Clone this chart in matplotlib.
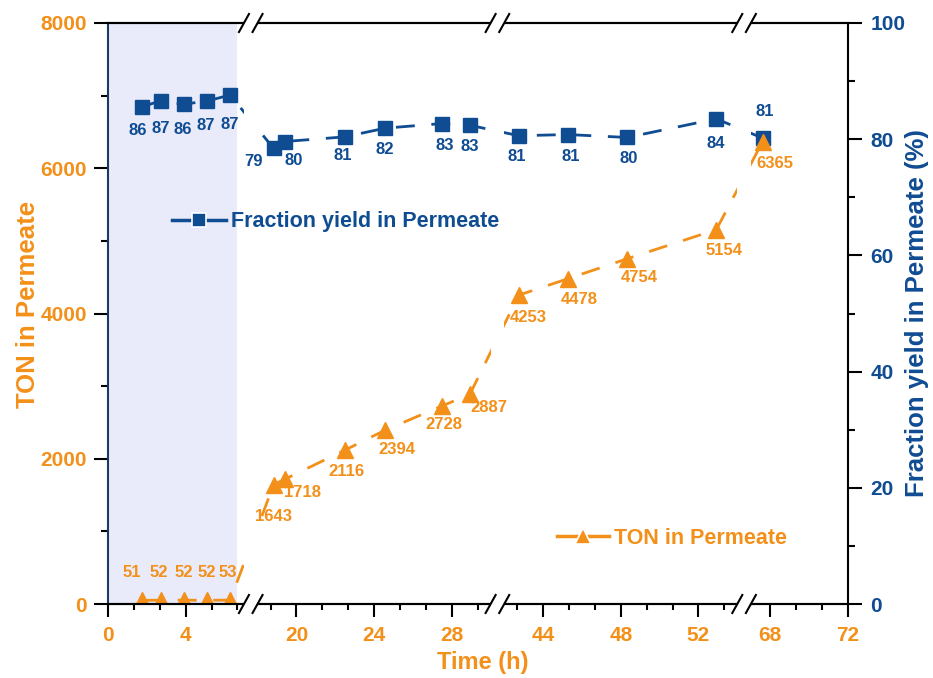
import numpy as np
import matplotlib
matplotlib.use("Agg")
import matplotlib.pyplot as plt
from matplotlib.lines import Line2D

plt.rcParams["font.family"] = ["Liberation Sans", "DejaVu Sans"]
plt.rcParams["font.weight"] = "bold"
plt.rcParams["axes.labelweight"] = "bold"

ORANGE = "#F39019"
BLUE = "#0F4C92"
NAVY = "#1B3A63"
SHADE = "#E9EBFA"

# ---- data ----
time_h = [1.76, 2.72, 3.89, 5.12, 6.29,
          18.83, 19.4, 22.48, 24.57, 27.51, 28.93,
          42.75, 45.27, 48.33, 52.92, 67.6]
ton = [51, 52, 52, 52, 53,
       1643, 1718, 2116, 2394, 2728, 2887,
       4253, 4478, 4754, 5154, 6365]
yield_pct = [85.6, 86.6, 86.0, 86.6, 87.6,
             78.4, 79.6, 80.4, 81.9, 82.7, 82.4,
             80.6, 80.8, 80.3, 83.5, 80.2]
yield_labels = ["86", "87", "86", "87", "87",
                "79", "80", "81", "82", "83", "83",
                "81", "81", "80", "84", "81"]

x_major = [0, 4, 20, 24, 28, 44, 48, 52, 68, 72]
x_tick_labels = ["0", "4", "20", "24", "28", "44", "48", "52", "68", "72"]

# broken time axis: shown pieces and gap width (in hours-equivalent)
segments = [(0, 7), (18, 30), (42, 54), (67, 72)]
GAP = 0.7

t_knots, u_knots = [], []
u = 0.0
for i, (a, b) in enumerate(segments):
    if i > 0:
        u += GAP
    t_knots += [a, b]
    u_knots += [u, u + b - a]
    u += b - a
t_knots = np.array(t_knots, float)
u_knots = np.array(u_knots, float)


def fwd(x):
    return np.interp(x, t_knots, u_knots)


def inv(x):
    return np.interp(x, u_knots, t_knots)


def frac(t):
    return float(fwd(t) / fwd(72))


# label offsets in pixels (dx, dy) from marker centre
ton_off = [(-10, 28), (-2, 28), (0, 28), (-1, 28), (-2, 28),
           (0, -32), (18, -13), (2, -21), (12, -19), (2, -19), (19, -13),
           (9, -22), (12, -21), (12, -19), (8, -21), (12, -22)]
yld_off = [(-4, -24), (0, -28), (-1, -25), (-2, -25), (0, -29),
           (-20, -13), (9, -19), (-2, -19), (0, -21), (2, -22), (0, -21),
           (-2, -21), (3, -22), (2, -21), (-1, -25), (2, 27)]

fig = plt.figure(figsize=(9.33, 6.78), dpi=100)
ax = fig.add_axes([108 / 933, 74 / 678, 740 / 933, 581 / 678])
ax.set_xscale("function", functions=(fwd, inv))
ax2 = ax.twinx()
# TON axis drawn on top
ax.set_zorder(ax2.get_zorder() + 1)
ax.patch.set_visible(False)

ax.set_xlim(0, 72)
ax.set_ylim(0, 8000)
ax2.set_ylim(0, 100)

# shaded first period (under everything)
ax2.axvspan(0, 6.63, facecolor=SHADE, edgecolor="none", zorder=0)

dash = (0, (6.8, 6.0))
ax2.plot(time_h, yield_pct, color=BLUE, lw=2, ls=dash, marker="s", ms=9.5, zorder=2)
ax.plot(time_h, ton, color=ORANGE, lw=2, ls=dash, marker="^", ms=11, zorder=2)

# all value labels live on the top axes so the break bands do not hide them
for t, v, lab, (dx, dy) in zip(time_h, yield_pct, yield_labels, yld_off):
    ax.annotate(lab, (t, v), xycoords=ax2.transData, xytext=(dx, dy),
                textcoords="offset pixels", ha="center", va="center",
                color=BLUE, fontsize=12, zorder=4)
for t, v, (dx, dy) in zip(time_h, ton, ton_off):
    ax.annotate(str(v), (t, v), xytext=(dx, dy), textcoords="offset pixels",
                ha="center", va="center", color=ORANGE, fontsize=12, zorder=4)

# white bands hiding the breaks
for (a0, b0), (a1, b1) in zip(segments[:-1], segments[1:]):
    ax.axvspan(b0, a1, facecolor="white", edgecolor="none", zorder=2.6)
    x0, x1 = frac(b0), frac(a1)
    for yy in (0, 1):
        ax.plot([x0, x1], [yy, yy], transform=ax.transAxes, color="white",
                lw=4, clip_on=False, zorder=6, solid_capstyle="butt")
        for xx in (x0, x1):
            dx, dy = 5 / 740, 9 / 581
            ax.plot([xx - dx, xx + dx], [yy - dy, yy + dy], transform=ax.transAxes,
                    color="black", lw=1.5, clip_on=False, zorder=7)

# ticks
minor = []
for a, b in segments:
    for m in np.arange(0, 73, 4 / 3):
        if a < m < b and not any(abs(m - M) < 0.01 for M in x_major):
            minor.append(m)
ax.set_xticks(x_major)
ax.set_xticklabels(x_tick_labels)
ax.set_xticks(minor, minor=True)
ax.tick_params(axis="x", which="major", length=9, width=1.5, labelsize=15,
               labelcolor=ORANGE, pad=7)
ax.tick_params(axis="x", which="minor", length=4.5, width=1.5)

ax.set_yticks([0, 2000, 4000, 6000, 8000])
ax.set_yticks([1000, 3000, 5000, 7000], minor=True)
ax.tick_params(axis="y", which="major", length=10, width=1.5, labelsize=15,
               labelcolor=ORANGE, pad=5)
ax.tick_params(axis="y", which="minor", length=5, width=1.5)

ax2.set_yticks([0, 20, 40, 60, 80, 100])
ax2.set_yticks([10, 30, 50, 70, 90], minor=True)
ax2.tick_params(axis="y", which="major", length=10, width=1.5, labelsize=15,
                labelcolor=BLUE, pad=6)
ax2.tick_params(axis="y", which="minor", length=5, width=1.5)

for s in ax.spines.values():
    s.set_linewidth(1.5)
for s in ax2.spines.values():
    s.set_linewidth(1.5)
ax.spines["left"].set_color(NAVY)
ax.spines["right"].set_visible(False)
ax2.spines["left"].set_visible(False)

ax.set_ylabel("TON in Permeate", color=ORANGE, fontsize=18.5, fontweight="bold")
ax.yaxis.set_label_coords(-0.0925, 0.515)
ax2.set_ylabel("Fraction yield in Permeate (%)", color=BLUE, fontsize=18.5,
               fontweight="bold")
ax2.yaxis.set_label_coords(1.077, 0.5)
ax.set_xlabel("Time (h)", color=ORANGE, fontsize=17, fontweight="bold")
ax.xaxis.set_label_coords(0.506, -0.081)

# legends
h_y = Line2D([], [], color=BLUE, lw=2.5, marker="s", ms=9.5, mec="white", mew=1.2)
h_t = Line2D([], [], color=ORANGE, lw=2.5, marker="^", ms=11, mec="white", mew=1.2)
leg1 = ax.legend([h_y], ["Fraction yield in Permeate"], loc="center left",
                 bbox_to_anchor=((172 - 108) / 740, (604 - 222) / 581),
                 frameon=False, fontsize=15.5, handlelength=2.5,
                 handletextpad=0.25, borderpad=0, borderaxespad=0)
leg1.get_texts()[0].set_color(BLUE)
ax.add_artist(leg1)
leg2 = ax.legend([h_t], ["TON in Permeate"], loc="center left",
                 bbox_to_anchor=((557 - 108) / 740, (604 - 538) / 581),
                 frameon=False, fontsize=15.5, handlelength=2.4,
                 handletextpad=0.25, borderpad=0, borderaxespad=0)
leg2.get_texts()[0].set_color(ORANGE)

fig.savefig("out.png", dpi=100)
